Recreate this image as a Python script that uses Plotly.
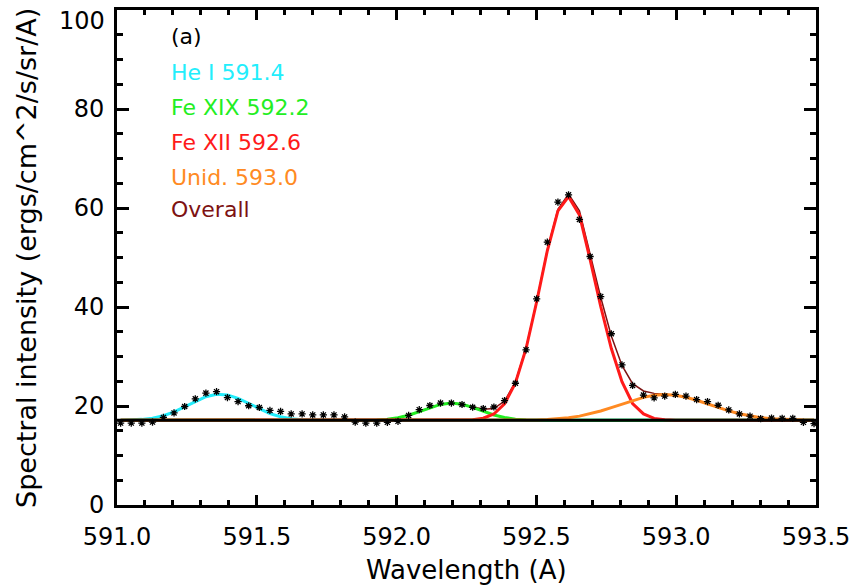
import plotly.graph_objects as go

# Sampled wavelengths (Angstrom) of the spectrum
wavelength = [
    591.013, 591.051, 591.089, 591.127, 591.166, 591.204, 591.242, 591.280,
    591.318, 591.356, 591.395, 591.433, 591.471, 591.509, 591.547, 591.585,
    591.623, 591.662, 591.700, 591.738, 591.776, 591.814, 591.852, 591.890,
    591.929, 591.967, 592.005, 592.043, 592.081, 592.119, 592.157, 592.196,
    592.234, 592.272, 592.310, 592.348, 592.386, 592.425, 592.463, 592.501,
    592.539, 592.577, 592.615, 592.654, 592.692, 592.730, 592.768, 592.806,
    592.844, 592.883, 592.921, 592.959, 592.997, 593.035, 593.073, 593.112,
    593.150, 593.188, 593.226, 593.264, 593.302, 593.341, 593.379, 593.417,
    593.455, 593.493,
]

# Observed spectral intensity
observed = [
    16.55, 16.55, 16.55, 16.75, 17.7, 18.6, 19.9, 21.45,
    22.6, 22.9, 21.7, 20.9, 20.05, 19.7, 19.1, 18.9,
    18.4, 18.4, 18.2, 18.2, 18.2, 17.8, 16.75, 16.55,
    16.55, 16.7, 16.9, 18.1, 19.25, 20.1, 20.6, 20.6,
    20.3, 19.75, 19.5, 19.8, 21.1, 24.6, 31.35, 41.65,
    53.1, 61.2, 62.65, 57.7, 50.2, 42.1, 34.6, 28.3,
    24.15, 22.2, 21.65, 22.0, 22.35, 22.0, 21.3, 20.9,
    20.15, 19.2, 18.4, 17.95, 17.45, 17.55, 17.5, 17.5,
    16.7, 16.45,
]

# Constant background level
background = 17.1

# Fitted line components (intensity above background)
he_i_5914 = [
    0.03, 0.08, 0.20, 0.45, 0.94, 1.70, 2.71, 3.82,
    4.77, 5.27, 5.14, 4.43, 3.38, 2.29, 1.37, 0.72,
    0.34, 0.14, 0.05, 0.02, 0.0, 0.0, 0.0, 0.0,
    0.0, 0.0, 0.0, 0.0, 0.0, 0.0, 0.0, 0.0,
    0.0, 0.0, 0.0, 0.0, 0.0, 0.0, 0.0, 0.0,
    0.0, 0.0, 0.0, 0.0, 0.0, 0.0, 0.0, 0.0,
    0.0, 0.0, 0.0, 0.0, 0.0, 0.0, 0.0, 0.0,
    0.0, 0.0, 0.0, 0.0, 0.0, 0.0, 0.0, 0.0,
    0.0, 0.0,
]
fe_xix_5922 = [
    0.0, 0.0, 0.0, 0.0, 0.0, 0.0, 0.0, 0.0,
    0.0, 0.0, 0.0, 0.0, 0.0, 0.0, 0.0, 0.0,
    0.0, 0.0, 0.0, 0.0, 0.0, 0.0, 0.0, 0.03,
    0.09, 0.23, 0.52, 1.03, 1.75, 2.56, 3.22, 3.50,
    3.26, 2.62, 1.81, 1.08, 0.56, 0.24, 0.09, 0.03,
    0.0, 0.0, 0.0, 0.0, 0.0, 0.0, 0.0, 0.0,
    0.0, 0.0, 0.0, 0.0, 0.0, 0.0, 0.0, 0.0,
    0.0, 0.0, 0.0, 0.0, 0.0, 0.0, 0.0, 0.0,
    0.0, 0.0,
]
fe_xii_5926 = [
    0.0, 0.0, 0.0, 0.0, 0.0, 0.0, 0.0, 0.0,
    0.0, 0.0, 0.0, 0.0, 0.0, 0.0, 0.0, 0.0,
    0.0, 0.0, 0.0, 0.0, 0.0, 0.0, 0.0, 0.0,
    0.0, 0.0, 0.0, 0.0, 0.0, 0.0, 0.0, 0.0,
    0.0, 0.13, 0.43, 1.29, 3.33, 7.55, 14.47, 23.96,
    34.26, 42.33, 45.2, 41.5, 32.5, 23.0, 14.5, 7.8,
    3.4, 1.3, 0.4, 0.1, 0.0, 0.0, 0.0, 0.0,
    0.0, 0.0, 0.0, 0.0, 0.0, 0.0, 0.0, 0.0,
    0.0, 0.0,
]
unid_5930 = [
    0.0, 0.0, 0.0, 0.0, 0.0, 0.0, 0.0, 0.0,
    0.0, 0.0, 0.0, 0.0, 0.0, 0.0, 0.0, 0.0,
    0.0, 0.0, 0.0, 0.0, 0.0, 0.0, 0.0, 0.0,
    0.0, 0.0, 0.0, 0.0, 0.0, 0.0, 0.0, 0.0,
    0.0, 0.0, 0.0, 0.0, 0.0, 0.0, 0.04, 0.09,
    0.17, 0.31, 0.52, 0.85, 1.31, 1.88, 2.56, 3.30,
    4.01, 4.64, 5.05, 5.20, 5.06, 4.66, 4.06, 3.33,
    2.59, 1.91, 1.33, 0.87, 0.54, 0.32, 0.18, 0.09,
    0.05, 0.02,
]

# Axis ranges and ticks
x_range = [591.0, 593.5]
y_range = [0, 100]
x_tick_step = 0.5
y_tick_values = [0, 20, 40, 60, 80, 100]
y_tick_labels = ["0", "20", "40", "60", "80", "100"]

components = [
    ("He I 591.4", he_i_5914, "#22eefc"),
    ("Fe XIX 592.2", fe_xix_5922, "#22ee22"),
    ("Fe XII 592.6", fe_xii_5926, "#ff1a1a"),
    ("Unid. 593.0", unid_5930, "#ff8a22"),
]
overall_color = "#7d1212"

FONT = "DejaVu Sans"

fig = go.Figure()

# Overall fit: background plus all components
overall = [
    background + a + b + c + d
    for a, b, c, d in zip(he_i_5914, fe_xix_5922, fe_xii_5926, unid_5930)
]
fig.add_trace(go.Scatter(
    x=wavelength, y=overall, mode="lines",
    line=dict(color=overall_color, width=1.5),
    name="Overall",
))

# Each component sits on top of the background level
for name, comp, color in components:
    fig.add_trace(go.Scatter(
        x=wavelength,
        y=[background + v for v in comp],
        mode="lines",
        line=dict(color=color, width=3),
        name=name,
        hoverinfo="skip",
    ))

# Background level across the full axis
fig.add_trace(go.Scatter(
    x=x_range, y=[background, background], mode="lines",
    line=dict(color="black", width=3),
    name="Background",
))

# Observed data
fig.add_trace(go.Scatter(
    x=wavelength, y=observed, mode="markers",
    marker=dict(symbol="asterisk-open", size=6, color="black",
                line=dict(color="black", width=1.3)),
    name="Data",
    cliponaxis=True,
))

axis_common = dict(
    showline=True, linecolor="black", linewidth=3, mirror="allticks",
    ticks="inside", tickcolor="black", tickwidth=2.5,
    showgrid=False, zeroline=False,
    tickfont=dict(family=FONT, size=24, color="black"),
)

fig.update_xaxes(
    range=x_range, dtick=x_tick_step, tick0=591.0, tickformat=".1f",
    ticklen=10, ticklabelstandoff=8,
    minor=dict(dtick=0.1, ticks="inside", ticklen=5, tickwidth=2.5,
               tickcolor="black", showgrid=False),
    **axis_common,
)
# The top label is set just below the frame corner so it stays on the page
fig.update_yaxes(
    range=y_range, tickmode="array",
    tickvals=y_tick_values,
    ticktext=y_tick_labels[:-1] + [""],
    ticklen=12, ticklabelstandoff=5,
    minor=dict(dtick=5, ticks="inside", ticklen=6, tickwidth=2.5,
               tickcolor="black", showgrid=False),
    **axis_common,
)

annotations = [dict(
    text=y_tick_labels[-1], x=-0.0143, y=0.9778, xref="paper", yref="paper",
    xanchor="right", yanchor="middle", showarrow=False,
    font=dict(family=FONT, size=24, color="black"),
)]

# Panel label and colour key
labels = [("(a)", "black")] + [(n, c) for n, _, c in components] + [("Overall", overall_color)]
label_y = [0.9455, 0.8747, 0.8040, 0.7333, 0.6626, 0.596]
for (text, color), yy in zip(labels, label_y):
    annotations.append(dict(
        text=text, x=0.0744, y=yy, xref="paper", yref="paper",
        xanchor="left", yanchor="middle", showarrow=False,
        font=dict(family=FONT, size=22, color=color),
    ))

# Axis titles
annotations.append(dict(
    text="Wavelength (A)", x=0.5, y=-0.131, xref="paper", yref="paper",
    xanchor="center", yanchor="middle", showarrow=False,
    font=dict(family=FONT, size=26, color="black"),
))
annotations.append(dict(
    text="Spectral intensity (ergs/cm^2/s/sr/A)", x=-0.1288, y=0.499,
    xref="paper", yref="paper", xanchor="center", yanchor="middle",
    textangle=-90, showarrow=False,
    font=dict(family=FONT, size=27, color="black"),
))

fig.update_layout(
    width=854, height=586,
    margin=dict(l=117, r=38, t=10, b=81, autoexpand=False),
    paper_bgcolor="white", plot_bgcolor="white",
    showlegend=False,
    annotations=annotations,
)

fig.write_html("out.html")
